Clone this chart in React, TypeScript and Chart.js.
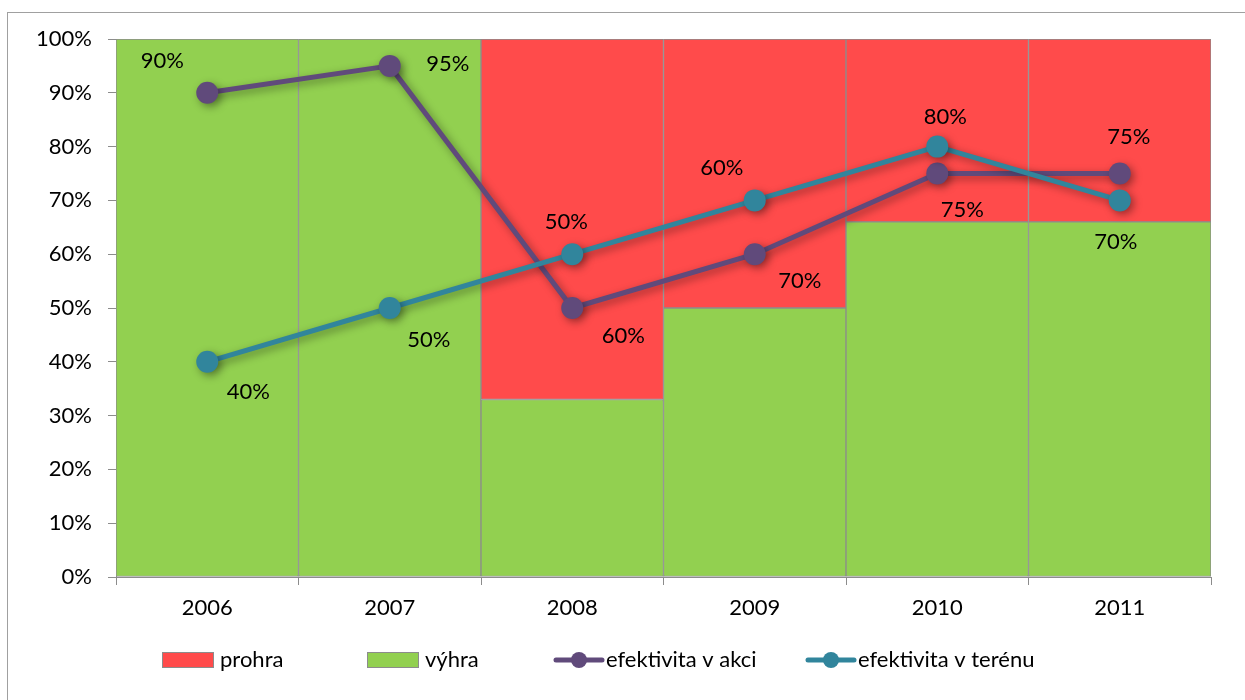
import React, { useEffect, useRef } from "react";
import { Chart, registerables } from "chart.js";

Chart.register(...registerables);

const years = ["2006", "2007", "2008", "2009", "2010", "2011"];
const vyhra = [100, 100, 33, 50, 66, 66];
const prohra = [0, 0, 67, 50, 34, 34];
const akci = [90, 95, 50, 60, 75, 75];
const teren = [40, 50, 60, 70, 80, 70];
const akciLabels = ["90%", "95%", "60%", "70%", "75%", "75%"];
const terenLabels = ["40%", "50%", "50%", "60%", "80%", "70%"];
const yTicks = [0, 10, 20, 30, 40, 50, 60, 70, 80, 90, 100];

// label placement offsets (px) relative to each point
const akciOffsets = [[-45, -32], [58, -2], [51, 28], [45, 27], [25, 36], [9, -37]];
const terenOffsets = [[41, 30], [39, 32], [-6, -32], [-33, -32], [8, -30], [-4, 42]];

const RED = "#FF4B4B";
const GREEN = "#92D050";
const PURPLE = "#604A7B";
const TEAL = "#31859C";
const GREY = "#8c8c8c";
const FONT = "Lato, 'Open Sans', sans-serif";

export default function App() {
  const ref = useRef<HTMLCanvasElement | null>(null);
  useEffect(() => {
    if (!ref.current) return;
    const shadowPlugin = {
      id: "shadow",
      beforeDatasetDraw(chart: any, args: any) {
        const ds = chart.data.datasets[args.index];
        if (ds.type === "line") {
          const ctx = chart.ctx;
          ctx.save();
          ctx.shadowColor = "rgba(0,0,0,0.4)";
          ctx.shadowBlur = 8;
          ctx.shadowOffsetX = 3;
          ctx.shadowOffsetY = 3;
        }
      },
      afterDatasetDraw(chart: any, args: any) {
        const ds = chart.data.datasets[args.index];
        if (ds.type === "line") chart.ctx.restore();
      },
    };
    const labelsPlugin = {
      id: "pointLabels",
      afterDatasetsDraw(chart: any) {
        const ctx = chart.ctx;
        ctx.save();
        ctx.font = `22px ${FONT}`;
        ctx.fillStyle = "#000";
        ctx.textAlign = "center";
        ctx.textBaseline = "middle";
        const draw = (dsIndex: number, texts: string[], offs: number[][]) => {
          const meta = chart.getDatasetMeta(dsIndex);
          meta.data.forEach((pt: any, i: number) => {
            ctx.fillText(texts[i], pt.x + offs[i][0], pt.y + offs[i][1]);
          });
        };
        draw(2, akciLabels, akciOffsets);
        draw(3, terenLabels, terenOffsets);
        ctx.restore();
      },
    };
    const legendPlugin = {
      id: "customLegend",
      afterDraw(chart: any) {
        const ctx = chart.ctx;
        const y = 660;
        ctx.save();
        ctx.font = `22px ${FONT}`;
        ctx.textBaseline = "middle";
        ctx.textAlign = "left";
        const box = (x: number, color: string, label: string) => {
          ctx.fillStyle = color;
          ctx.fillRect(x, y - 8, 52, 16);
          ctx.strokeStyle = GREY;
          ctx.lineWidth = 1;
          ctx.strokeRect(x + 0.5, y - 7.5, 51, 15);
          ctx.fillStyle = "#000";
          ctx.fillText(label, x + 58, y);
        };
        const line = (x: number, color: string, label: string) => {
          ctx.strokeStyle = color;
          ctx.lineWidth = 5;
          ctx.lineCap = "round";
          ctx.beginPath();
          ctx.moveTo(x, y);
          ctx.lineTo(x + 46, y);
          ctx.stroke();
          ctx.fillStyle = color;
          ctx.beginPath();
          ctx.arc(x + 23, y, 8, 0, Math.PI * 2);
          ctx.fill();
          ctx.fillStyle = "#000";
          ctx.fillText(label, x + 50, y);
        };
        const ds = chart.data.datasets;
        box(162, RED, ds[1].label);
        box(367, GREEN, ds[0].label);
        line(556, PURPLE, ds[2].label);
        line(808, TEAL, ds[3].label);
        ctx.restore();
      },
    };
    const chart = new Chart(ref.current, {
      type: "bar",
      data: {
        labels: years,
        datasets: [
          {
            type: "bar",
            label: "výhra",
            data: vyhra,
            backgroundColor: GREEN,
            borderColor: GREY,
            borderWidth: 1,
            borderSkipped: false,
            barPercentage: 1,
            categoryPercentage: 1,
            stack: "bars",
            order: 2,
          },
          {
            type: "bar",
            label: "prohra",
            data: prohra,
            backgroundColor: RED,
            borderColor: GREY,
            borderWidth: 1,
            borderSkipped: false,
            barPercentage: 1,
            categoryPercentage: 1,
            stack: "bars",
            order: 2,
          },
          {
            type: "line",
            label: "efektivita v akci",
            data: akci,
            borderColor: PURPLE,
            backgroundColor: PURPLE,
            borderWidth: 5,
            pointRadius: 11,
            pointBorderWidth: 0,
            fill: false,
            tension: 0,
            stack: "akci",
            order: 1,
          },
          {
            type: "line",
            label: "efektivita v terénu",
            data: teren,
            borderColor: TEAL,
            backgroundColor: TEAL,
            borderWidth: 5,
            pointRadius: 11,
            pointBorderWidth: 0,
            fill: false,
            tension: 0,
            stack: "teren",
            order: 0,
          },
        ] as any,
      },
      options: {
        animation: false,
        responsive: false,
        maintainAspectRatio: false,
        layout: { padding: { top: 39, right: 34, left: 0, bottom: 0 } },
        plugins: { legend: { display: false }, tooltip: { enabled: false } },
        scales: {
          x: {
            stacked: true,
            offset: true,
            grid: { offset: true, drawOnChartArea: false, color: GREY, tickLength: 8 },
            border: { color: GREY, width: 1 },
            ticks: { color: "#000", font: { family: FONT, size: 22 }, padding: 10 },
            afterFit(scale: any) {
              scale.height = 123;
            },
          },
          y: {
            stacked: true,
            min: 0,
            max: 100,
            grid: { drawOnChartArea: false, color: GREY, tickLength: 8 },
            border: { color: GREY, width: 1 },
            afterBuildTicks(scale: any) {
              scale.ticks = yTicks.map((v) => ({ value: v }));
            },
            ticks: {
              color: "#000",
              font: { family: FONT, size: 22 },
              padding: 16,
              callback: (v: any) => `${v}%`,
            },
            afterFit(scale: any) {
              scale.width = 116;
            },
          },
        },
      },
      plugins: [shadowPlugin, labelsPlugin, legendPlugin],
    });
    return () => chart.destroy();
  }, []);
  return (
    <div
      style={{
        position: "fixed",
        left: 0,
        top: 0,
        width: 1245,
        height: 700,
        overflow: "hidden",
        background: "#fff",
      }}
    >
      <div
        style={{
          position: "absolute",
          left: 7,
          top: 12,
          width: 1300,
          height: 800,
          border: "1px solid #a0a0a0",
        }}
      />
      <canvas
        ref={ref}
        width={1245}
        height={700}
        style={{ position: "absolute", left: 0, top: 0, width: 1245, height: 700 }}
      />
    </div>
  );
}
